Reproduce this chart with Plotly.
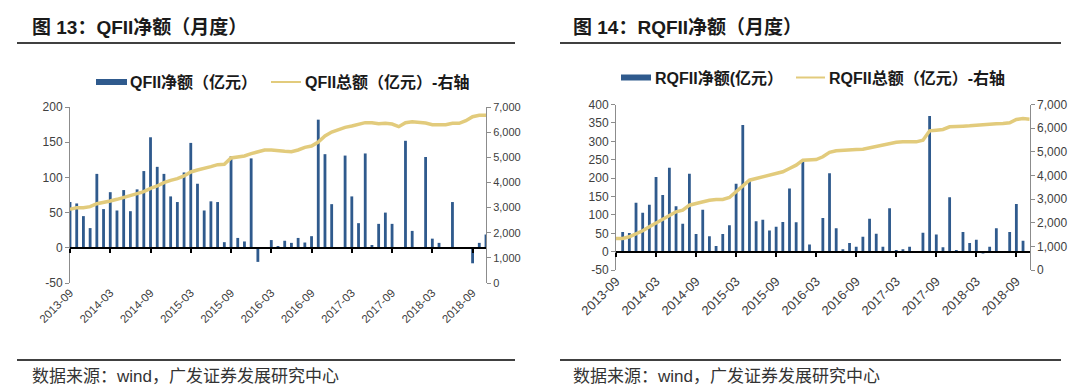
import plotly.graph_objects as go

W, H = 1076, 385

# ---- data ----
months = []
y, m = 2013, 9
for _ in range(63):
    months.append(f"{y}-{m:02d}")
    m += 1
    if m > 12:
        m = 1
        y += 1
tick_labels = months[::6]

qfii_net = [65, 63, 45, 28, 105, 55, 79, 53, 82, 52, 83, 109, 157, 115, 105, 73,
            65, 107, 149, 91, 53, 66, 65, 8, 130, 14, 9, 127, -20, 0, 11, 1.5,
            10, 7, 14, 7.5, 16.5, 182, 133, 62, 0, 131, 73, 35, 134, 4, 34, 50,
            34, 0, 152, 24, 0, 129, 13, 7, 0, 65, 0, 0, -22, 7, 19]
qfii_total = [2930, 2996, 2996, 3036, 3155, 3195, 3261, 3328, 3394, 3460, 3553,
              3632, 3765, 3858, 3990, 4083, 4150, 4256, 4415, 4494, 4547, 4627,
              4706, 4720, 4972, 5025, 5051, 5144, 5210, 5290, 5290, 5250, 5237,
              5223, 5290, 5396, 5449, 5608, 5847, 6006, 6112, 6191, 6244, 6297,
              6377, 6377, 6337, 6350, 6324, 6218, 6377, 6417, 6403, 6364, 6297,
              6297, 6297, 6350, 6350, 6456, 6615, 6668, 6668]
rqfii_net = [0, 54, 51, 133, 106, 128, 203, 154, 228, 124, 76, 212, 48, 114, 42,
             16, 48, 72, 185, 344, 193, 83, 87, 58, 68, 81, 172, 80, 249, 20, 0,
             92, 213, 64, 7, 24, 14, 41, 90, 49, 14, 118, 5, 7, 14, 0, 52, 369,
             47, 12, 148, 5, 54, 24, 33, -2, 14, 64, 0, 54, 130, 30, 0]
rqfii_total = [1339, 1339, 1411, 1521, 1664, 1833, 2002, 2142, 2323, 2467, 2535,
               2746, 2818, 2889, 2957, 2987, 2987, 3071, 3312, 3591, 3802, 3874,
               3946, 4013, 4085, 4157, 4296, 4436, 4647, 4676, 4676, 4790, 4980,
               5042, 5070, 5099, 5099, 5113, 5169, 5254, 5282, 5352, 5408, 5423,
               5423, 5423, 5493, 5887, 5915, 5944, 6056, 6056, 6085, 6099, 6127,
               6141, 6155, 6183, 6197, 6225, 6366, 6408, 6380]

left_ticks_q = [-50, 0, 50, 100, 150, 200]
left_ticks_r = [-50, 0, 50, 100, 150, 200, 250, 300, 350, 400]

titles = ["图 13：QFII净额（月度）", "图 14：RQFII净额（月度）"]
legend_bar = ["QFII净额（亿元）", "RQFII净额(亿元）"]
legend_line = ["QFII总额（亿元）-右轴", "RQFII总额（亿元）-右轴"]
source = "数据来源：wind，广发证券发展研究中心"

BAR = "#2F5A8D"
GOLD = "#E2CB7C"
TXT = "#404040"
FONT = "Liberation Sans, Arial, Noto Sans CJK SC, sans-serif"


def px(x):
    return x / W


def py(y):
    return 1 - y / H


n = len(months)
tickidx = list(range(0, n, 6))

fig = go.Figure()

fig.add_trace(go.Bar(x=months, y=qfii_net, marker_color=BAR, width=0.42,
                     xaxis="x", yaxis="y", name=legend_bar[0]))
fig.add_trace(go.Scatter(x=months, y=qfii_total, mode="lines",
                         line=dict(color=GOLD, width=3.5),
                         xaxis="x", yaxis="y2", name=legend_line[0]))
fig.add_trace(go.Bar(x=months, y=rqfii_net, marker_color=BAR, width=0.42,
                     xaxis="x2", yaxis="y3", name=legend_bar[1]))
fig.add_trace(go.Scatter(x=months, y=rqfii_total, mode="lines",
                         line=dict(color=GOLD, width=3.5),
                         xaxis="x2", yaxis="y4", name=legend_line[1]))
# invisible helper traces so the zero-line axes get drawn
for xa, ya in (("x3", "y"), ("x4", "y3")):
    fig.add_trace(go.Scatter(x=tickidx, y=[0] * len(tickidx), mode="markers",
                             marker=dict(opacity=0), hoverinfo="skip",
                             xaxis=xa, yaxis=ya, showlegend=False))

# panel geometry (pixels)
L = dict(x0=62, x1=478, ytop=99, ybot=275, lrange=[-50, 200])
R = dict(x0=608, x1=1021.7, ytop=96.5, ybot=262.2, lrange=[-50, 400])


def ydom(p):
    return [py(p["ybot"]), py(p["ytop"])]


def zero_pos(p):
    d = ydom(p)
    lo, hi = p["lrange"]
    return d[0] + (0 - lo) / (hi - lo) * (d[1] - d[0])


axis_common = dict(showgrid=False, zeroline=False, automargin=False)


def xcat(p, anchor, size):
    return dict(type="category", categoryorder="array", categoryarray=months,
                domain=[px(p["x0"]), px(p["x1"])], anchor=anchor,
                range=[0, n - 1], tickvals=tick_labels, ticktext=tick_labels,
                tickangle=-45, ticks="", showline=False,
                tickfont=dict(family=FONT, size=size, color=TXT), **axis_common)


def xzero(p, over):
    return dict(type="linear", overlaying=over, anchor="free",
                position=zero_pos(p), range=[0, n - 1], tickvals=tickidx,
                showticklabels=False, ticks="outside", ticklen=4, tickwidth=1.5,
                tickcolor="#000", showline=True, linecolor="#000", linewidth=2,
                **axis_common)


def yleft(p, anchor, vals, size):
    return dict(domain=ydom(p), anchor=anchor, range=p["lrange"],
                tickvals=vals, ticktext=[str(v) for v in vals],
                showline=True, linecolor="#8c8c8c", linewidth=1,
                ticks="outside", ticklen=4, tickcolor="#8c8c8c",
                tickfont=dict(family=FONT, size=size, color=TXT), **axis_common)


def yright(p, over, anchor, size):
    return dict(overlaying=over, side="right", anchor=anchor, range=[0, 7000],
                dtick=1000, tickformat=",d", showline=True,
                linecolor="#8c8c8c", linewidth=1, ticks="outside", ticklen=4,
                tickcolor="#8c8c8c",
                tickfont=dict(family=FONT, size=size, color=TXT), **axis_common)


fig.update_layout(
    template="none",
    width=W, height=H, margin=dict(l=0, r=0, t=0, b=0, autoexpand=False),
    paper_bgcolor="white", plot_bgcolor="white", showlegend=False,
    xaxis=xcat(L, "y", 11.5),
    xaxis2=xcat(R, "y3", 13),
    xaxis3=xzero(L, "x"),
    xaxis4=xzero(R, "x2"),
    yaxis=yleft(L, "x", left_ticks_q, 12),
    yaxis2=yright(L, "y", "x", 11),
    yaxis3=yleft(R, "x2", left_ticks_r, 12),
    yaxis4=yright(R, "y3", "x2", 12),
)

shapes = []
annotations = []

# titles, separators, sources
for i, (tx, lx0, lx1) in enumerate([(22, 9, 507), (563, 552, 1053)]):
    annotations.append(dict(xref="paper", yref="paper", x=px(tx), y=py(19),
                            xanchor="left", yanchor="middle", showarrow=False,
                            text=f"<b>{titles[i]}</b>",
                            font=dict(family=FONT, size=19, color="#1a1a1a")))
    for yy in (35, 352):
        shapes.append(dict(type="line", xref="paper", yref="paper",
                           x0=px(lx0), x1=px(lx1), y0=py(yy), y1=py(yy),
                           line=dict(color="#000", width=1.5)))
    annotations.append(dict(xref="paper", yref="paper", x=px(tx), y=py(368),
                            xanchor="left", yanchor="middle", showarrow=False,
                            text=source,
                            font=dict(family=FONT, size=17, color="#333")))

# legends
leg = [
    dict(rx0=88, rx1=119, ly=74, t1=120, lx0=263, lx1=293, t2=295),
    dict(rx0=613, rx1=643, ly=69.5, t1=645, lx0=788, lx1=817, t2=819),
]
for i, g in enumerate(leg):
    shapes.append(dict(type="rect", xref="paper", yref="paper",
                       x0=px(g["rx0"]), x1=px(g["rx1"]),
                       y0=py(g["ly"] + 3), y1=py(g["ly"] - 3),
                       fillcolor=BAR, line=dict(width=0)))
    shapes.append(dict(type="line", xref="paper", yref="paper",
                       x0=px(g["lx0"]), x1=px(g["lx1"]),
                       y0=py(g["ly"]), y1=py(g["ly"]),
                       line=dict(color=GOLD, width=2)))
    annotations.append(dict(xref="paper", yref="paper", x=px(g["t1"]),
                            y=py(g["ly"]), xanchor="left", yanchor="middle",
                            showarrow=False, text=f"<b>{legend_bar[i]}</b>",
                            font=dict(family=FONT, size=16, color="#1a1a1a")))
    annotations.append(dict(xref="paper", yref="paper", x=px(g["t2"]),
                            y=py(g["ly"]), xanchor="left", yanchor="middle",
                            showarrow=False, text=f"<b>{legend_line[i]}</b>",
                            font=dict(family=FONT, size=16, color="#1a1a1a")))

fig.update_layout(shapes=shapes, annotations=annotations)

fig.write_html("out.html")
